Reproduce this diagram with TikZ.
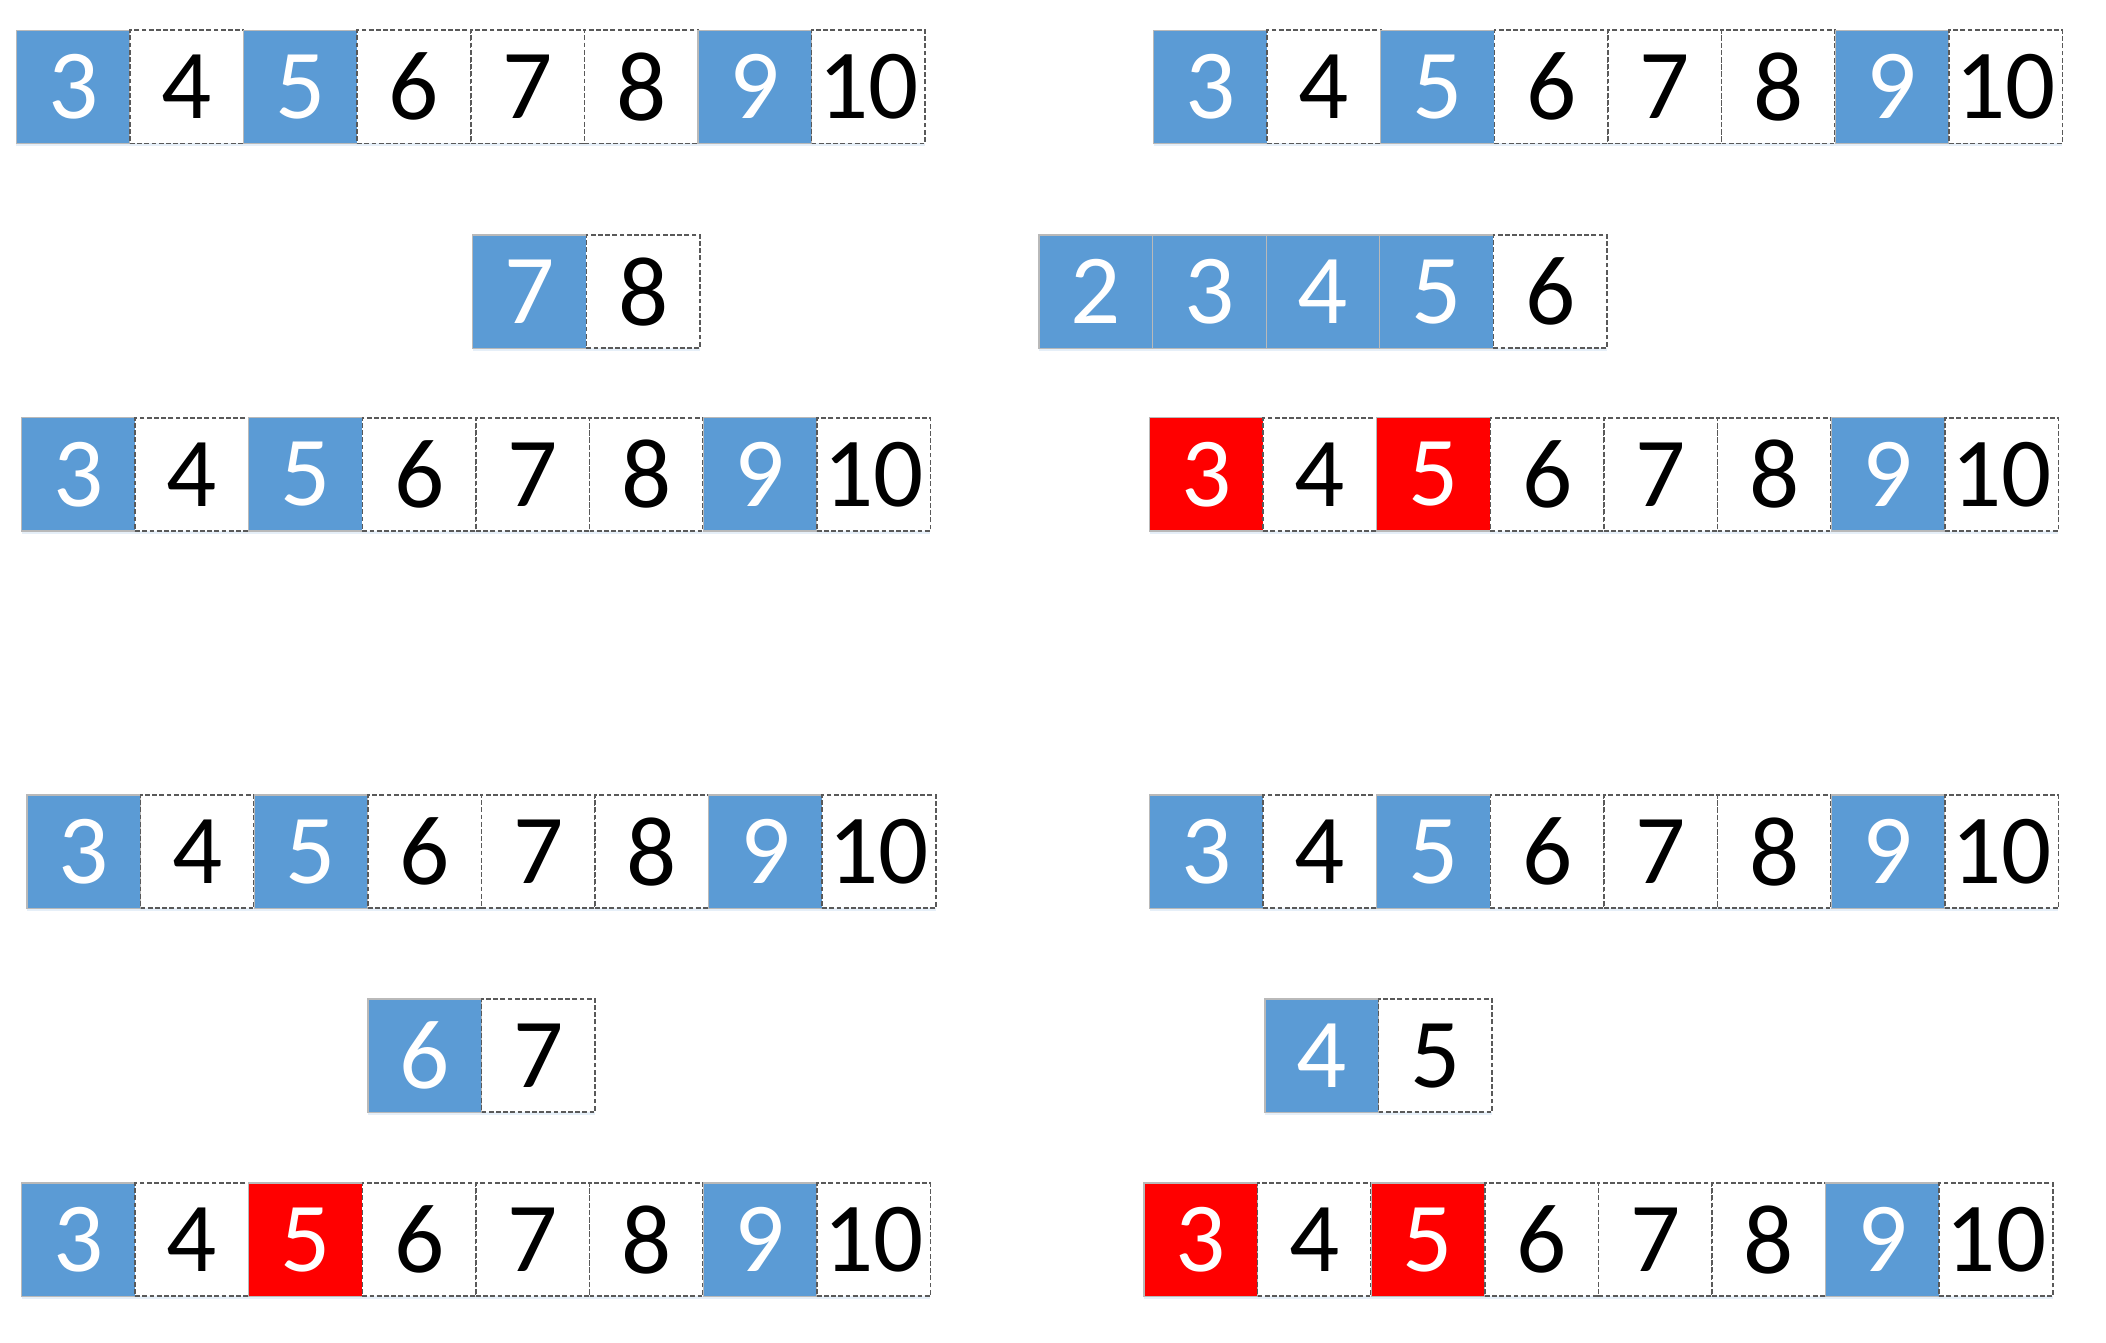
\documentclass[tikz,border=0pt]{standalone}
\usepackage{fontspec}
\setmainfont{Carlito}
\usetikzlibrary{shadows}
\definecolor{cblue}{HTML}{5B9BD5}
\definecolor{cred}{HTML}{FF0000}
\newcommand\cellrow[4]{%
  \foreach \v/\s [count=\i from 0] in {#4} {
    \node[\s] (#1-\i) at ({#2+(\i+0.5)*113.6}, {#3+56.6}) {\v};
  }%
}
\begin{document}
\begin{tikzpicture}[x=0.5pt,y=-0.5pt,
  cell/.style={minimum width=56.8pt, minimum height=56.6pt, inner sep=0pt, outer sep=0pt,
    font=\fontsize{49.5}{49.5}\selectfont, line width=0.6pt,
    drop shadow={shadow xshift=0pt, shadow yshift=-1.4pt, fill=cblue!30, opacity=0.5}},
  bc/.style={cell, fill=cblue, draw=gray!55, text=white},
  rc/.style={cell, fill=cred, draw=gray!55, text=white},
  wc/.style={cell, fill=white, draw=black!65, line width=0.8pt, dash pattern=on 2.4pt off 1.2pt, text=black}]
\fill[white] (0,0) rectangle (2106,1343);
\useasboundingbox (0,0) rectangle (2106,1343);
% left column
\cellrow{a}{16.4}{30.2}{3/bc,4/wc,5/bc,6/wc,7/wc,8/wc,9/bc,10/wc}
\cellrow{b}{472.7}{235}{7/bc,8/wc}
\cellrow{c}{21.5}{417.7}{3/bc,4/wc,5/bc,6/wc,7/wc,8/wc,9/bc,10/wc}
\cellrow{d}{26.9}{795}{3/bc,4/wc,5/bc,6/wc,7/wc,8/wc,9/bc,10/wc}
\cellrow{e}{368}{999}{6/bc,7/wc}
\cellrow{f}{21.5}{1183}{3/bc,4/wc,5/rc,6/wc,7/wc,8/wc,9/bc,10/wc}
% right column
\cellrow{g}{1153.6}{30.2}{3/bc,4/wc,5/bc,6/wc,7/wc,8/wc,9/bc,10/wc}
\cellrow{h}{1039}{235}{2/bc,3/bc,4/bc,5/bc,6/wc}
\cellrow{i}{1149.6}{417.7}{3/rc,4/wc,5/rc,6/wc,7/wc,8/wc,9/bc,10/wc}
\cellrow{j}{1149.6}{795}{3/bc,4/wc,5/bc,6/wc,7/wc,8/wc,9/bc,10/wc}
\cellrow{k}{1265}{999}{4/bc,5/wc}
\cellrow{l}{1144}{1183}{3/rc,4/wc,5/rc,6/wc,7/wc,8/wc,9/bc,10/wc}
\end{tikzpicture}
\end{document}
